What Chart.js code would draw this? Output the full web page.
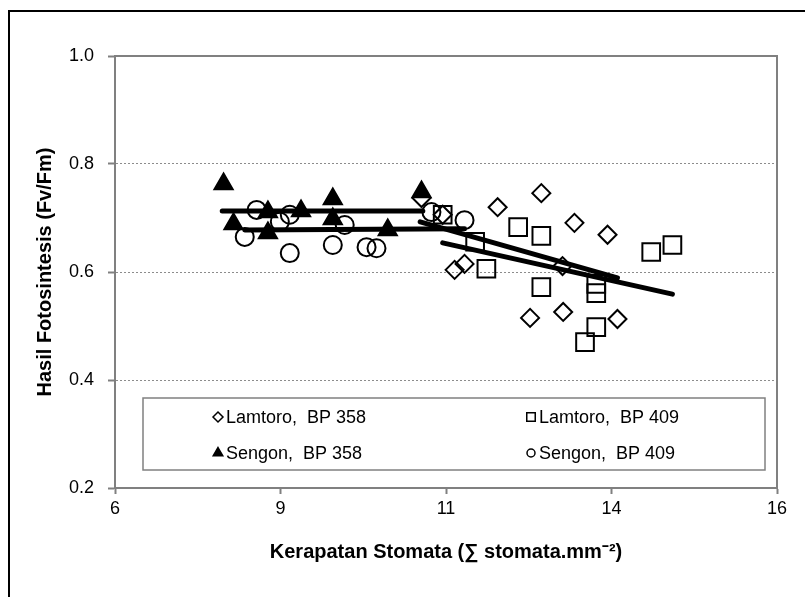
<!DOCTYPE html>
<html>
<head>
<meta charset="utf-8">
<script src="https://cdn.jsdelivr.net/npm/chart.js@4.4.1/dist/chart.umd.min.js"></script>
<style>
  html, body { margin: 0; padding: 0; background: #fff; overflow: hidden; }
  #wrap { position: relative; width: 805px; height: 597px; overflow: hidden; }
  #frame { position: absolute; left: 8px; top: 10px; width: 900px; height: 700px; border-left: 2px solid #000; border-top: 2px solid #000; }
  #chart { position: absolute; left: 0; top: 0; }
</style>
</head>
<body>
<div id="wrap">
  <div id="frame"></div>
  <canvas id="chart" width="805" height="597"></canvas>
</div>
<script>
// --- Data ---
const lamtoro358X = [10.63, 10.95, 11.13, 11.28, 11.78, 12.27, 12.44, 12.76, 12.77, 12.94, 13.44, 13.59];
const lamtoro358Y = [0.737, 0.706, 0.604, 0.615, 0.720, 0.515, 0.746, 0.611, 0.526, 0.691, 0.669, 0.513];

const lamtoro409X = [10.95, 11.44, 11.61, 12.09, 12.44, 12.44, 13.27, 13.27, 13.27, 13.10, 14.10, 14.42];
const lamtoro409Y = [0.706, 0.656, 0.606, 0.683, 0.667, 0.572, 0.578, 0.561, 0.498, 0.470, 0.637, 0.650];

const sengon358X = [7.64, 7.79, 8.31, 8.31, 8.81, 9.29, 9.29, 10.12, 10.63];
const sengon358Y = [0.763, 0.689, 0.711, 0.672, 0.713, 0.735, 0.698, 0.678, 0.748];

const sengon409X = [7.96, 8.14, 8.49, 8.64, 8.64, 9.29, 9.47, 9.80, 9.95, 10.78, 11.28];
const sengon409Y = [0.665, 0.715, 0.693, 0.706, 0.635, 0.650, 0.687, 0.646, 0.644, 0.711, 0.696];

// trend lines (end points as drawn)
const trendLamtoro358X = [10.61, 13.59];
const trendLamtoro358Y = [0.693, 0.589];
const trendLamtoro409X = [10.95, 14.42];
const trendLamtoro409Y = [0.654, 0.559];
const trendSengon358X = [7.62, 10.65];
const trendSengon358Y = [0.713, 0.713];
const trendSengon409X = [7.96, 11.28];
const trendSengon409Y = [0.678, 0.680];

const xTicks = [6, 8.5, 11, 13.5, 16];
const yTicks = [0.2, 0.4, 0.6, 0.8, 1.0];

const FONT = "'Liberation Sans', Arial, sans-serif";
const pts = (xs, ys) => xs.map((x, i) => ({ x: x, y: ys[i] }));

const series = [
    { label: 'Lamtoro, BP 358', xs: lamtoro358X, ys: lamtoro358Y, style: 'rectRot', r: 9, fill: 'rgba(0,0,0,0)', lr: 5 },
    { label: 'Lamtoro, BP 409', xs: lamtoro409X, ys: lamtoro409Y, style: 'rect', r: 12.5, fill: 'rgba(0,0,0,0)', lr: 6 },
    { label: 'Sengon, BP 358', xs: sengon358X, ys: sengon358Y, style: 'triangle', r: 10.5, fill: '#000', lr: 5.5 },
    { label: 'Sengon, BP 409', xs: sengon409X, ys: sengon409Y, style: 'circle', r: 9, fill: 'rgba(0,0,0,0)', lr: 4 }
];
const trends = [
    [trendLamtoro358X, trendLamtoro358Y],
    [trendLamtoro409X, trendLamtoro409Y],
    [trendSengon358X, trendSengon358Y],
    [trendSengon409X, trendSengon409Y]
];

const datasets = [];
trends.forEach(t => datasets.push({
    type: 'line', data: pts(t[0], t[1]), borderColor: '#000', borderWidth: 5,
    pointRadius: 0, borderCapStyle: 'round', fill: false, order: 0
}));
series.forEach(s => datasets.push({
    type: 'scatter', label: s.label, data: pts(s.xs, s.ys), pointStyle: s.style,
    pointRadius: s.r, borderColor: '#000', backgroundColor: s.fill, pointBorderWidth: 2,
    borderWidth: 2, order: 1
}));

// plot area box (top / right edges)
const plotFrame = {
    id: 'plotFrame',
    beforeDatasetsDraw(chart) {
        const a = chart.chartArea, ctx = chart.ctx;
        ctx.save();
        ctx.strokeStyle = '#808080';
        ctx.lineWidth = 2;
        ctx.strokeRect(a.left, a.top, a.right - a.left, a.bottom - a.top);
        ctx.restore();
    }
};

// legend box inside the plot, two columns
const boxLegend = {
    id: 'boxLegend',
    afterDatasetsDraw(chart) {
        const ctx = chart.ctx;
        const bx = 143, by = 398, bw = 622, bh = 72;
        ctx.save();
        ctx.fillStyle = '#fff';
        ctx.fillRect(bx, by, bw, bh);
        ctx.strokeStyle = '#808080';
        ctx.lineWidth = 1.5;
        ctx.strokeRect(bx, by, bw, bh);
        const cols = [218, 531], rows = [417, 453];
        series.forEach((s, i) => {
            const mx = cols[i % 2], my = rows[Math.floor(i / 2)];
            ctx.fillStyle = s.fill;
            ctx.strokeStyle = '#000';
            ctx.lineWidth = 1.5;
            Chart.helpers.drawPoint(ctx, { pointStyle: s.style, radius: s.lr, borderWidth: 1.5, rotation: 0 }, mx, my);
            ctx.fillStyle = '#000';
            ctx.font = '18px ' + FONT;
            ctx.textAlign = 'left';
            ctx.textBaseline = 'middle';
            ctx.fillText(s.label.replace(', ', ',  '), mx + 8, my + 1);
        });
        ctx.restore();
    }
};

new Chart(document.getElementById('chart'), {
    data: { datasets: datasets },
    options: {
        responsive: false,
        animation: false,
        layout: { padding: { top: 56, right: 28, left: 0, bottom: 0 } },
        plugins: { legend: { display: false }, tooltip: { enabled: false } },
        scales: {
            x: {
                type: 'linear', min: xTicks[0], max: xTicks[xTicks.length - 1],
                afterFit: s => { s.height = 109; },
                afterBuildTicks: s => { s.ticks = xTicks.map(v => ({ value: v })); },
                ticks: { callback: v => Math.round(v), font: { family: FONT, size: 18 }, color: '#000', padding: 4, maxRotation: 0 },
                grid: { drawOnChartArea: false, tickLength: 6, tickColor: '#808080', tickWidth: 2 },
                border: { color: '#808080', width: 2 },
                title: {
                    display: true, text: 'Kerapatan Stomata (∑ stomata.mm⁻²)',
                    font: { family: FONT, size: 20, weight: 'bold' }, color: '#000',
                    padding: { top: 0, bottom: 33 }
                }
            },
            y: {
                type: 'linear', min: yTicks[0], max: yTicks[yTicks.length - 1],
                afterFit: s => { s.width = 115; },
                afterBuildTicks: s => { s.ticks = yTicks.map(v => ({ value: v })); },
                ticks: { callback: v => v.toFixed(1), font: { family: FONT, size: 18 }, color: '#000', padding: 14 },
                grid: {
                    color: c => (c.tick && c.tick.value > 0.3 && c.tick.value < 0.9) ? '#8c8c8c' : 'rgba(0,0,0,0)',
                    lineWidth: 1, tickLength: 7, tickColor: '#808080', tickWidth: 2
                },
                border: { color: '#808080', width: 2, dash: [2, 2] },
                title: {
                    display: true, text: 'Hasil Fotosintesis (Fv/Fm)',
                    font: { family: FONT, size: 20, weight: 'bold' }, color: '#000',
                    padding: { top: 33, bottom: 0 }
                }
            }
        }
    },
    plugins: [plotFrame, boxLegend]
});
</script>
</body>
</html>
